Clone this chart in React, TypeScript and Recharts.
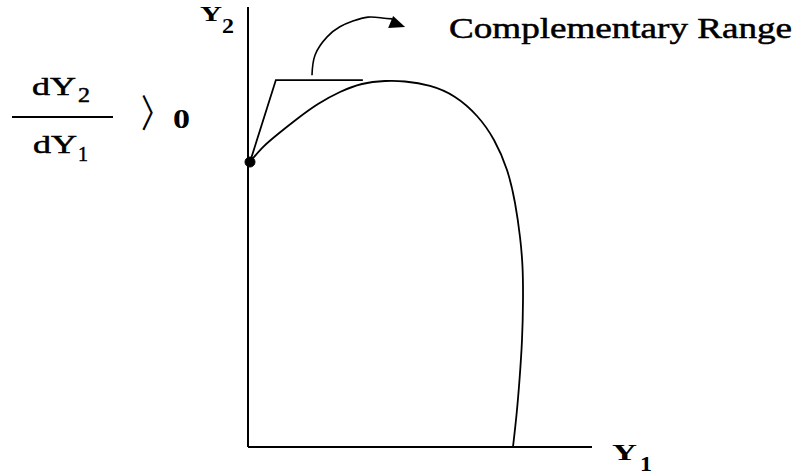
import React from "react";
import {
  LineChart,
  Line,
  XAxis,
  YAxis,
  ReferenceLine,
  ReferenceDot,
} from "recharts";

// production possibility frontier (Y1 on x, Y2 on y)
const frontier = [
  { x: 0.58, y: 64.77 },
  { x: 4.07, y: 67.95 },
  { x: 8.72, y: 71.14 },
  { x: 14.24, y: 74.55 },
  { x: 20.35, y: 77.95 },
  { x: 26.74, y: 80.68 },
  { x: 33.14, y: 82.5 },
  { x: 39.83, y: 83.18 },
  { x: 45.64, y: 83.07 },
  { x: 52.91, y: 82.05 },
  { x: 60.17, y: 79.55 },
  { x: 66.57, y: 75.23 },
  { x: 71.51, y: 69.77 },
  { x: 75.29, y: 62.95 },
  { x: 77.62, y: 55.45 },
  { x: 79.07, y: 47.73 },
  { x: 79.8, y: 40.91 },
  { x: 79.94, y: 33.41 },
  { x: 79.65, y: 24.32 },
  { x: 78.92, y: 15.23 },
  { x: 78.05, y: 7.27 },
  { x: 77.03, y: 0 },
];

// bracket from the start point up to the top of the frontier
const tangent = [
  { x: 0.58, y: 64.77 },
  { x: 8.1, y: 83.4 },
  { x: 33.4, y: 83.4 },
];

// curved arrow pointing at the label
const arrow = [
  { x: 18.6, y: 84.5 },
  { x: 19.5, y: 89.1 },
  { x: 23.0, y: 93.2 },
  { x: 26.7, y: 95.5 },
  { x: 30.5, y: 96.8 },
  { x: 34.9, y: 97.7 },
  { x: 39.0, y: 97.5 },
  { x: 41.9, y: 97.3 },
];

const startPoint = { x: 0.58, y: 64.77 };

const serif = "'Liberation Serif', 'DejaVu Serif', serif";

const ArrowHead = (props: any) => {
  const { cx, cy, index } = props;
  if (index !== arrow.length - 1 || cx == null) return <g key={`ah-${index}`} />;
  return (
    <polygon
      key={`ah-${index}`}
      points={`${cx + 1},${cy - 3} ${cx + 13},${cy + 8} ${cx - 4},${cy + 9}`}
      fill="#000"
    />
  );
};

const heavy = { stroke: "#000", strokeWidth: 0.5 };

export default function App() {
  return (
    <div style={{ position: "absolute", left: 0, top: 0, background: "#fff" }}>
      <LineChart
        width={795}
        height={476}
        margin={{ top: 7, right: 203, bottom: 29, left: 248 }}
      >
        <XAxis type="number" dataKey="x" domain={[0, 100]} hide />
        <YAxis type="number" dataKey="y" domain={[0, 100]} hide />
        <ReferenceLine
          segment={[{ x: 0, y: 0 }, { x: 100, y: 0 }]}
          stroke="#000"
          strokeWidth={2}
        />
        <ReferenceLine
          segment={[{ x: 0, y: 0 }, { x: 0, y: 100 }]}
          stroke="#000"
          strokeWidth={2}
        />
        <Line
          data={frontier}
          dataKey="y"
          type="natural"
          stroke="#000"
          strokeWidth={1.8}
          dot={false}
          isAnimationActive={false}
        />
        <Line
          data={tangent}
          dataKey="y"
          type="linear"
          stroke="#000"
          strokeWidth={1.8}
          dot={false}
          isAnimationActive={false}
        />
        <Line
          data={arrow}
          dataKey="y"
          type="natural"
          stroke="#000"
          strokeWidth={1.6}
          dot={ArrowHead}
          isAnimationActive={false}
        />
        <ReferenceDot
          x={startPoint.x}
          y={startPoint.y}
          r={5}
          fill="#000"
          stroke="#000"
        />

        <text
          x={449}
          y={38}
          fontFamily={serif}
          fontSize={29}
          textLength={343}
          lengthAdjust="spacingAndGlyphs"
          {...heavy}
        >
          Complementary Range
        </text>

        <text x={200} y={21} fontFamily={serif} fontSize={21} fontWeight="bold" textLength={22} lengthAdjust="spacingAndGlyphs">
          Y
        </text>
        <text x={222} y={33} fontFamily={serif} fontSize={21} fontWeight="bold" textLength={12} lengthAdjust="spacingAndGlyphs">
          2
        </text>

        <text x={612} y={460} fontFamily={serif} fontSize={24} fontWeight="bold" textLength={25} lengthAdjust="spacingAndGlyphs">
          Y
        </text>
        <text x={640} y={471} fontFamily={serif} fontSize={22} fontWeight="bold" textLength={12} lengthAdjust="spacingAndGlyphs">
          1
        </text>

        <text x={32} y={95} fontFamily={serif} fontSize={26} textLength={44} lengthAdjust="spacingAndGlyphs" {...heavy}>
          dY
        </text>
        <text x={78} y={102} fontFamily={serif} fontSize={21} textLength={12} lengthAdjust="spacingAndGlyphs" {...heavy}>
          2
        </text>
        <line x1={12} y1={117} x2={113} y2={117} stroke="#000" strokeWidth={2} />
        <text x={33} y={153} fontFamily={serif} fontSize={26} textLength={44} lengthAdjust="spacingAndGlyphs" {...heavy}>
          dY
        </text>
        <text x={78} y={161} fontFamily={serif} fontSize={21} textLength={10} lengthAdjust="spacingAndGlyphs" {...heavy}>
          1
        </text>
        <text
          transform="translate(141,127) scale(0.75,1)"
          x={0}
          y={0}
          fontFamily="Noto Sans CJK JP"
          fontSize={38}
        >
          〉
        </text>
        <text x={173} y={128} fontFamily={serif} fontSize={28} fontWeight="bold" textLength={17} lengthAdjust="spacingAndGlyphs">
          0
        </text>
      </LineChart>
    </div>
  );
}
